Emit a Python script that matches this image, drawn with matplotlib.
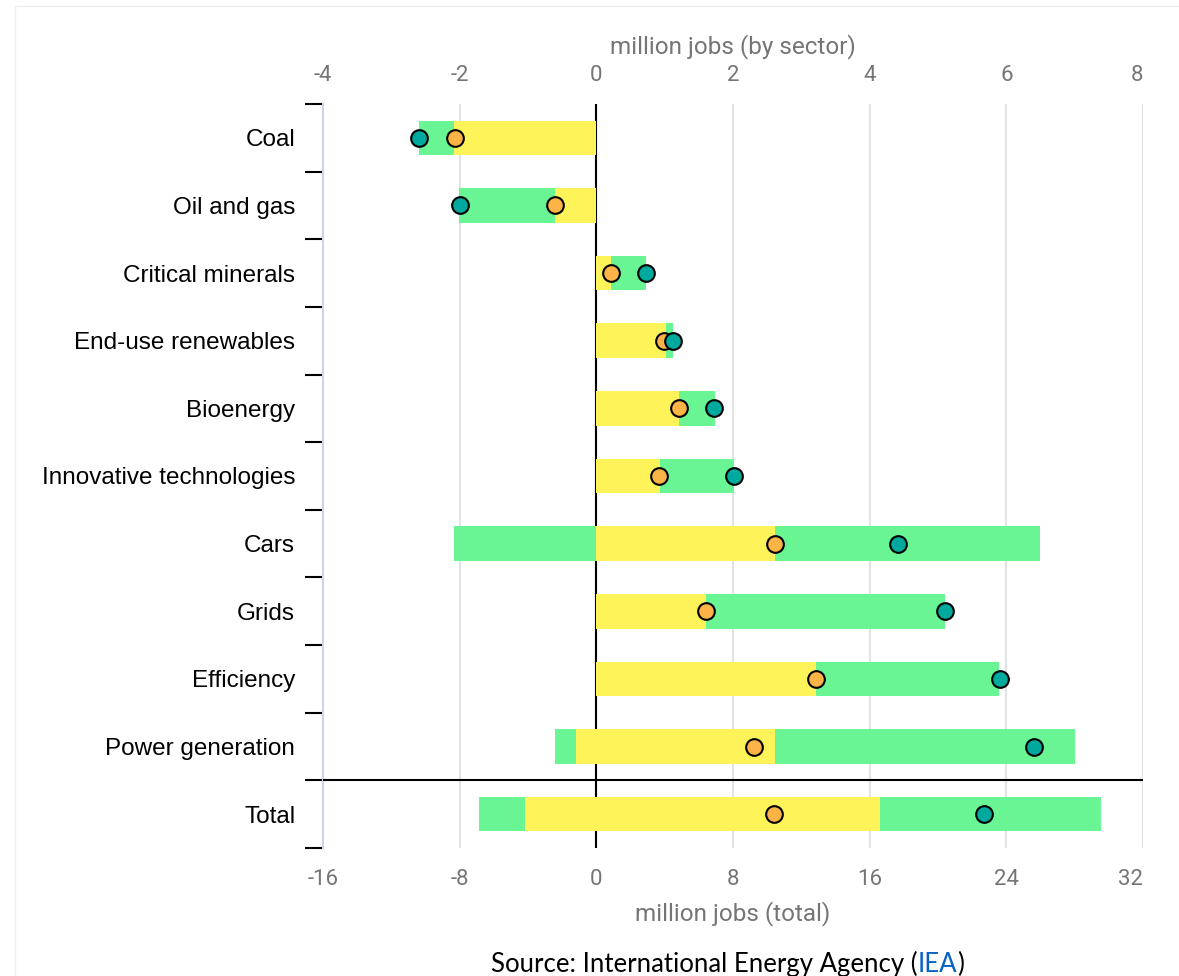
import matplotlib.pyplot as plt
from matplotlib.lines import Line2D
import numpy as np

plt.rcParams["axes.unicode_minus"] = False

# sectors (million jobs, top axis) + total (bottom axis)
sectors = ["Coal", "Oil and gas", "Critical minerals", "End-use renewables", "Bioenergy",
           "Innovative technologies", "Cars", "Grids", "Efficiency", "Power generation"]
yellow_pos = [0, 0, 0.21, 1.02, 1.21, 0.93, 2.62, 1.61, 3.22, 2.62]
yellow_neg = [-2.09, -0.61, 0, 0, 0, 0, 0, 0, 0, -0.30]
green_pos = [0, 0, 0.52, 0.10, 0.52, 1.08, 3.87, 3.49, 2.68, 4.39]
green_neg = [-0.51, -1.40, 0, 0, 0, 0, -2.09, 0, 0, -0.31]
orange_pts = [-2.07, -0.60, 0.21, 0.99, 1.21, 0.92, 2.62, 1.61, 3.22, 2.31]
teal_pts = [-2.59, -2.00, 0.73, 1.12, 1.72, 2.01, 4.42, 5.10, 5.90, 6.40]

total_label = "Total"
total_yellow_pos = 16.6
total_yellow_neg = -4.15
total_green_pos = 12.95
total_green_neg = -2.72
total_orange = 10.4
total_teal = 22.7

top_ticks = [-4, -2, 0, 2, 4, 6, 8]
bottom_ticks = [-16, -8, 0, 8, 16, 24, 32]

YELLOW = "#fff35a"
GREEN = "#69f593"
ORANGE = "#fdb447"
TEAL = "#00a99d"
GREY = "#757575"

fig = plt.figure(figsize=(11.79, 9.76), dpi=100)
ax = fig.add_axes([323 / 1179, 128 / 976, 820 / 1179, 744 / 976])
ax2 = ax.twiny()

y = np.arange(len(sectors))
h = 0.51
ax.barh(y, yellow_pos, height=h, color=YELLOW, zorder=2)
ax.barh(y, yellow_neg, height=h, color=YELLOW, zorder=2)
ax.barh(y, green_pos, height=h, left=yellow_pos, color=GREEN, zorder=2)
ax.barh(y, green_neg, height=h, left=yellow_neg, color=GREEN, zorder=2)
ax.plot(orange_pts, y, "o", ms=12, mfc=ORANGE, mec="black", mew=1.5, zorder=4)
ax.plot(teal_pts, y, "o", ms=12, mfc=TEAL, mec="black", mew=1.5, zorder=4)

ty = len(sectors)
ax2.barh(ty, total_yellow_pos, height=h, color=YELLOW, zorder=2)
ax2.barh(ty, total_yellow_neg, height=h, color=YELLOW, zorder=2)
ax2.barh(ty, total_green_pos, height=h, left=total_yellow_pos, color=GREEN, zorder=2)
ax2.barh(ty, total_green_neg, height=h, left=total_yellow_neg, color=GREEN, zorder=2)
ax2.plot([total_orange], [ty], "o", ms=12, mfc=ORANGE, mec="black", mew=1.5, zorder=4)
ax2.plot([total_teal], [ty], "o", ms=12, mfc=TEAL, mec="black", mew=1.5, zorder=4)

ax.set_xlim(top_ticks[0], top_ticks[-1])
ax2.set_xlim(bottom_ticks[0], bottom_ticks[-1])
ax.set_ylim(ty + 0.5, -0.5)

# gridlines and zero line
for t in top_ticks[1:]:
    ax.axvline(t, color="#e3e3e3", lw=1.5, zorder=0)
ax.axvline(0, color="black", lw=1.5, zorder=1)
ax.axhline(ty - 0.5, color="black", lw=1.5, zorder=3)

# top axis
ax.xaxis.tick_top()
ax.xaxis.set_label_position("top")
ax.set_xticks(top_ticks)
ax.tick_params(axis="x", length=0, pad=13, labelsize=16, labelcolor=GREY)
ax.set_xlabel("million jobs (by sector)", fontsize=17.5, color=GREY, labelpad=8)

# bottom axis
ax2.xaxis.set_ticks_position("bottom")
ax2.xaxis.set_label_position("bottom")
ax2.set_xticks(bottom_ticks)
ax2.tick_params(axis="x", length=0, pad=15, labelsize=16, labelcolor=GREY)
ax2.set_xlabel("million jobs (total)", fontsize=17.5, color=GREY, labelpad=8)
for a in (ax, ax2):
    for lab in a.get_xticklabels():
        lab.set_fontfamily("Roboto")
    a.xaxis.label.set_fontfamily("Roboto")
ax.get_xticklabels()[-1].set_ha("right")
ax2.get_xticklabels()[-1].set_ha("right")

# y axis
ax.set_yticks(y.tolist() + [ty])
ax.set_yticklabels(sectors + [total_label], fontsize=17.5, family="Liberation Sans")
ax.set_yticks(np.arange(-0.5, ty + 1, 1), minor=True)
ax.tick_params(axis="y", which="major", length=0, pad=20)
ax.tick_params(axis="y", which="minor", length=13, width=1.5, color="black")

for s in ("top", "right", "bottom"):
    ax.spines[s].set_visible(False)
ax.spines["left"].set_color("#c9d6ea")
ax.spines["left"].set_linewidth(1.5)
for s in ax2.spines.values():
    s.set_visible(False)

# faint frame
fig.add_artist(Line2D([15 / 1179, 1], [1 - 6 / 976] * 2, color="#efefef", lw=1))
fig.add_artist(Line2D([15 / 1179] * 2, [0, 1 - 6 / 976], color="#efefef", lw=1))

# source line
t1 = fig.text(491 / 1179, 1 - 964 / 976, "Source: International Energy Agency (", fontsize=18.5,
              family="Lato", va="center", ha="left")
t2 = ax.annotate("IEA", xy=(1, 0), xycoords=t1, va="bottom", ha="left", fontsize=18.5,
                 family="Lato", color="#0563c1", annotation_clip=False)
ax.annotate(")", xy=(1, 0), xycoords=t2, va="bottom", ha="left", fontsize=18.5,
            family="Lato", annotation_clip=False)

fig.savefig("out.png", dpi=100)
